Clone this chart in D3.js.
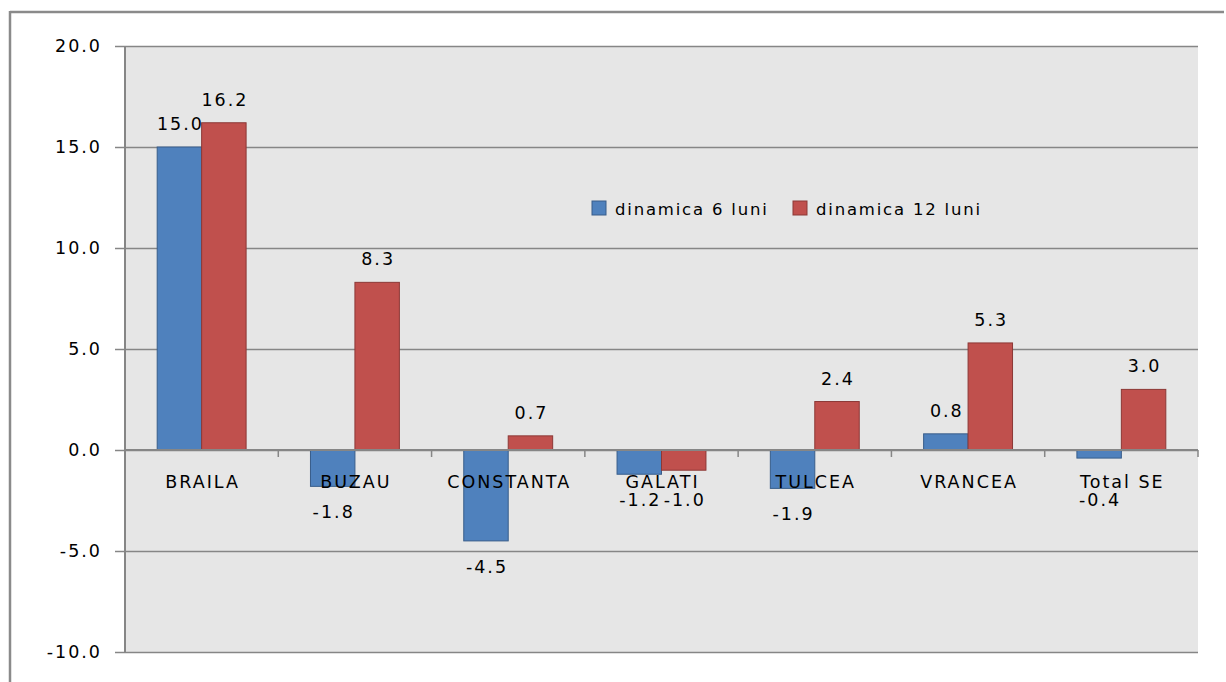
<!DOCTYPE html>
<html>
<head>
<meta charset="utf-8">
<script src="https://cdn.jsdelivr.net/npm/d3@7"></script>
<style>
  html, body { margin: 0; padding: 0; background: #ffffff; }
  svg { display: block; }
  text { font-family: "DejaVu Sans", sans-serif; fill: #000; }
</style>
</head>
<body>
<svg id="chart" width="1226" height="682"></svg>
<script>
// ---- data ----
const categories = ["BRAILA", "BUZAU", "CONSTANTA", "GALATI", "TULCEA", "VRANCEA", "Total SE"];
const seriesNames = ["dinamica 6 luni", "dinamica 12 luni"];
const dinamica6 = [15.0, -1.8, -4.5, -1.2, -1.9, 0.8, -0.4];
const dinamica12 = [16.2, 8.3, 0.7, -1.0, 2.4, 5.3, 3.0];
const yTicks = [-10, -5, 0, 5, 10, 15, 20];

// ---- layout ----
const W = 1226, H = 682;
const plot = { left: 125, right: 1198, top: 46, bottom: 652 };
const colors = ["#4f81bd", "#c0504d"];
const strokes = ["#385d8a", "#8c3836"];
const gridColor = "#868686";
const fmt = v => v.toFixed(1);

const svg = d3.select("#chart");

// outer frame
svg.append("line").attr("x1", 10).attr("x2", 1224).attr("y1", 12).attr("y2", 12)
  .attr("stroke", "#8a8a8a").attr("stroke-width", 2.5);
svg.append("line").attr("x1", 10).attr("x2", 10).attr("y1", 11).attr("y2", H)
  .attr("stroke", "#8a8a8a").attr("stroke-width", 2.5);

const y = d3.scaleLinear().domain([-10, 20]).range([plot.bottom, plot.top]);
const x0 = d3.scaleBand().domain(categories).range([plot.left, plot.right])
  .paddingInner(0.42).paddingOuter(0.21);
const x1 = d3.scaleBand().domain(seriesNames).range([0, x0.bandwidth()]);

// plot background
svg.append("rect")
  .attr("x", plot.left).attr("y", plot.top)
  .attr("width", plot.right - plot.left).attr("height", plot.bottom - plot.top)
  .attr("fill", "#e6e6e6");

// y axis with gridlines
const plotW = plot.right - plot.left;
const yAxis = svg.append("g").attr("transform", `translate(${plot.left},0)`)
  .call(d3.axisLeft(y).tickValues(yTicks).tickFormat(fmt)
    .tickSizeInner(-plotW).tickSizeOuter(0).tickPadding(23));
yAxis.select(".domain").remove();
yAxis.selectAll(".tick line")
  .attr("x1", -10)
  .attr("stroke", gridColor).attr("stroke-width", 1.5);
yAxis.selectAll(".tick text")
  .attr("font-size", 17.5).attr("letter-spacing", 2)
  .attr("font-family", "DejaVu Sans").attr("fill", "#111");

// bars
const data = categories.map((c, i) => ({ cat: c, vals: [dinamica6[i], dinamica12[i]] }));
const groups = svg.append("g").selectAll("g").data(data).join("g")
  .attr("transform", d => `translate(${x0(d.cat)},0)`);

groups.selectAll("rect").data(d => d.vals.map((v, k) => ({ v, k })))
  .join("rect")
  .attr("x", d => x1(seriesNames[d.k]))
  .attr("y", d => y(Math.max(0, d.v)))
  .attr("width", x1.bandwidth())
  .attr("height", d => Math.abs(y(d.v) - y(0)))
  .attr("fill", d => colors[d.k])
  .attr("stroke", d => strokes[d.k]).attr("stroke-width", 1);

// vertical axis line
svg.append("line").attr("x1", plot.left).attr("x2", plot.left)
  .attr("y1", plot.top).attr("y2", plot.bottom)
  .attr("stroke", gridColor).attr("stroke-width", 2);

// zero line with category boundary ticks
svg.append("line").attr("x1", plot.left).attr("x2", plot.right)
  .attr("y1", y(0)).attr("y2", y(0))
  .attr("stroke", gridColor).attr("stroke-width", 2);
const step = x0.step();
const bounds = d3.range(categories.length + 1).map(i => plot.left + i * step);
svg.append("g").selectAll("line").data(bounds.slice(1)).join("line")
  .attr("x1", d => d).attr("x2", d => d)
  .attr("y1", y(0)).attr("y2", y(0) + 7)
  .attr("stroke", gridColor).attr("stroke-width", 1.5);

// category labels
svg.append("g").selectAll("text").data(categories).join("text")
  .attr("x", d => x0(d) + x0.bandwidth() / 2 + 1)
  .attr("y", 488)
  .attr("text-anchor", "middle")
  .attr("font-size", 17.5).attr("letter-spacing", 2)
  .attr("fill", "#111")
  .text(d => d);

// value labels
groups.selectAll("text.val").data(d => d.vals.map((v, k) => ({ v, k })))
  .join("text").attr("class", "val")
  .attr("x", d => x1(seriesNames[d.k]) + x1.bandwidth() / 2 + 1)
  .attr("y", d => d.v >= 0 ? y(d.v) - 17 : Math.max(y(d.v) + 32, 506))
  .attr("text-anchor", "middle")
  .attr("font-size", 17.5).attr("letter-spacing", 2)
  .attr("fill", "#111")
  .text(d => fmt(d.v));

// legend
const legend = svg.append("g").attr("transform", "translate(592,201)");
const legX = [0, 201];
seriesNames.forEach((name, k) => {
  const g = legend.append("g").attr("transform", `translate(${legX[k]},0)`);
  g.append("rect").attr("width", 14).attr("height", 14)
    .attr("fill", colors[k]).attr("stroke", strokes[k]).attr("stroke-width", 1);
  g.append("text").attr("x", 23).attr("y", 14)
    .attr("font-size", 16.5).attr("letter-spacing", 1.8)
    .attr("fill", "#111")
    .text(name);
});
</script>
</body>
</html>
